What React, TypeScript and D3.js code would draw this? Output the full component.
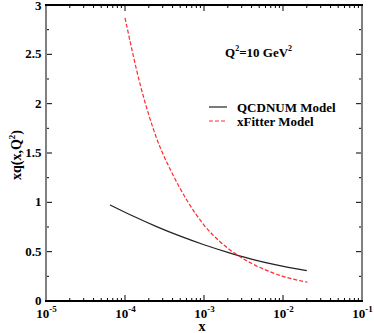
import React from "react";
import * as d3 from "d3";

const qcdnumX = [6.46e-5, 1.26e-4, 2.51e-4, 5.01e-4, 1.0e-3, 2.0e-3, 3.98e-3, 7.94e-3, 2.0e-2];
const qcdnumY = [0.974, 0.861, 0.754, 0.657, 0.57, 0.493, 0.425, 0.368, 0.307];

const xfitterX = [1.0e-4, 1.585e-4, 2.512e-4, 3.98e-4, 6.31e-4, 1.0e-3, 1.585e-3, 2.512e-3, 3.98e-3, 6.31e-3, 1.0e-2, 2.04e-2];
const xfitterY = [2.87, 2.17, 1.65, 1.29, 1.0, 0.77, 0.603, 0.478, 0.382, 0.308, 0.25, 0.19];

const xDecades = [-5, -4, -3, -2, -1];
const yTicks = [0, 0.5, 1, 1.5, 2, 2.5, 3];
const yMinor = [0.25, 0.75, 1.25, 1.75, 2.25, 2.75];
const legendLabels = ["QCDNUM Model", "xFitter Model"];

const W = 374, H = 333;
const L = 46, R = 362, T = 5, B = 301;

export default function App() {
  const x = d3.scaleLog().domain([1e-5, 1e-1]).range([L, R]);
  const y = d3.scaleLinear().domain([0, 3]).range([B, T]);
  const line = d3
    .line<[number, number]>()
    .x((d) => x(d[0]))
    .y((d) => y(d[1]))
    .curve(d3.curveMonotoneX);
  const black = line(qcdnumX.map((v, i) => [v, qcdnumY[i]]) as [number, number][]);
  const red = line(xfitterX.map((v, i) => [v, xfitterY[i]]) as [number, number][]);

  const minorX: number[] = [];
  for (let d = -5; d < -1; d++) {
    for (let k = 2; k <= 9; k++) minorX.push(k * Math.pow(10, d));
  }
  const tstyle = { fontFamily: '"Liberation Serif", Tinos, "Times New Roman", serif', fontWeight: 700 } as React.CSSProperties;

  return (
    <svg width={W} height={H} style={{ position: "absolute", left: 0, top: 0, background: "#fff" }}>
      {/* curves */}
      <path d={black || ""} fill="none" stroke="#222" strokeWidth={1.2} />
      <path d={red || ""} fill="none" stroke="#ff2a2a" strokeWidth={1.2} strokeDasharray="4,2" />

      {/* x ticks */}
      {xDecades.map((d) => (
        <g key={"xm" + d}>
          <line x1={x(Math.pow(10, d))} x2={x(Math.pow(10, d))} y1={B} y2={B - 6} stroke="#000" strokeWidth={1} />
          <line x1={x(Math.pow(10, d))} x2={x(Math.pow(10, d))} y1={T} y2={T + 6} stroke="#000" strokeWidth={1} />
          <text x={x(Math.pow(10, d)) + 0.5} y={318} fontSize={13} textAnchor="middle" style={tstyle}>
            10
            <tspan fontSize={9} dy={-6}>{d}</tspan>
          </text>
        </g>
      ))}
      {minorX.map((v, i) => (
        <g key={"xn" + i}>
          <line x1={x(v)} x2={x(v)} y1={B} y2={B - 3} stroke="#000" strokeWidth={1} />
          <line x1={x(v)} x2={x(v)} y1={T} y2={T + 3} stroke="#000" strokeWidth={1} />
        </g>
      ))}

      {/* y ticks */}
      {yTicks.map((t) => (
        <g key={"ym" + t}>
          <line x1={L} x2={L + 6} y1={y(t)} y2={y(t)} stroke="#000" strokeWidth={1} />
          <line x1={R} x2={R - 6} y1={y(t)} y2={y(t)} stroke="#000" strokeWidth={1} />
          <text x={41.5} y={Math.max(y(t) + 4, 10)} fontSize={13} textAnchor="end" style={tstyle}>
            {t}
          </text>
        </g>
      ))}
      {yMinor.map((t) => (
        <g key={"yn" + t}>
          <line x1={L} x2={L + 3} y1={y(t)} y2={y(t)} stroke="#000" strokeWidth={1} />
          <line x1={R} x2={R - 3} y1={y(t)} y2={y(t)} stroke="#000" strokeWidth={1} />
        </g>
      ))}

      {/* frame */}
      <line x1={L} x2={L} y1={T} y2={B} stroke="#808080" strokeWidth={2} />
      <line x1={R} x2={R} y1={T} y2={B} stroke="#808080" strokeWidth={2} />
      <line x1={L - 1} x2={R + 1} y1={T} y2={T} stroke="#000" strokeWidth={2} />
      <line x1={L - 1} x2={R + 1} y1={B} y2={B} stroke="#000" strokeWidth={2} />

      {/* axis labels */}
      <text x={202} y={331} fontSize={14} textAnchor="middle" style={tstyle}>x</text>
      <text transform={`translate(21,${(T + B) / 2 + 2}) rotate(-90)`} fontSize={14} textAnchor="middle" style={tstyle}>
        xq(x,Q
        <tspan fontSize={9} dy={-6}>2</tspan>
        <tspan dy={6}>)</tspan>
      </text>

      {/* annotation */}
      <text x={225} y={57} fontSize={13} style={tstyle}>
        Q<tspan fontSize={8} dy={-6}>2</tspan>
        <tspan dy={6}>=10 GeV</tspan>
        <tspan fontSize={8} dy={-6}>2</tspan>
      </text>

      {/* legend */}
      <line x1={209} x2={227} y1={107} y2={107} stroke="#222" strokeWidth={1.2} />
      <text x={237} y={111.5} fontSize={13} style={tstyle}>{legendLabels[0]}</text>
      <line x1={209} x2={227} y1={121} y2={121} stroke="#ff2a2a" strokeWidth={1.2} strokeDasharray="4,2" />
      <text x={237} y={125.5} fontSize={13} style={tstyle}>{legendLabels[1]}</text>
    </svg>
  );
}
